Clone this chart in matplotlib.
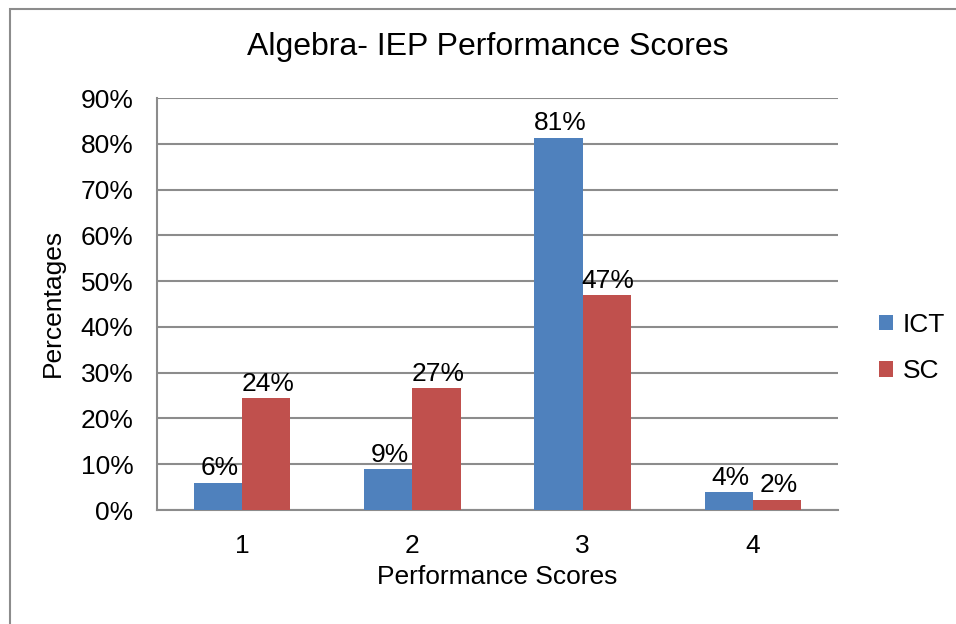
import matplotlib
matplotlib.use("Agg")
import matplotlib.pyplot as plt
from matplotlib.patches import Rectangle
from matplotlib.ticker import PercentFormatter
import numpy as np

categories = ["1", "2", "3", "4"]
series_names = ["ICT", "SC"]
ict_values = [0.059, 0.089, 0.813, 0.039]
sc_values = [0.244, 0.266, 0.469, 0.022]
y_ticks = [0, 0.1, 0.2, 0.3, 0.4, 0.5, 0.6, 0.7, 0.8, 0.9]

plt.rcParams['font.family'] = ['Liberation Sans', 'DejaVu Sans']

W, H = 956, 624
fig = plt.figure(figsize=(W / 100, H / 100), dpi=100)
ax = fig.add_axes([157 / W, 1 - 510 / H, (838 - 157) / W, (510 - 98) / H])

# outer chart border
fig.patches.append(Rectangle((10 / W, -0.1), 1.2, 1 - 8.5 / H + 0.1, transform=fig.transFigure,
                             fill=False, edgecolor="#8c8c8c", linewidth=1.5))

x = np.arange(1, len(categories) + 1)
bw = 0.283
colors = ["#4F81BD", "#C0504D"]
FS = 19
for i, (vals, name) in enumerate(zip([ict_values, sc_values], series_names)):
    pos = x + (i - 0.5) * bw
    ax.bar(pos, vals, width=bw, color=colors[i], label=name, zorder=3)
    for px, v in zip(pos, vals):
        ax.annotate(f"{v * 100:.0f}%", (px, v), xytext=(1, 5.5), textcoords="offset points",
                    ha="center", va="baseline", fontsize=FS)

ax.set_xlim(0.5, 4.5)
ax.set_ylim(0, 0.9)
ax.set_yticks(y_ticks)
ax.yaxis.set_major_formatter(PercentFormatter(1.0, decimals=0))
ax.set_xticks(x)
ax.set_xticklabels(categories)
ax.grid(axis="y", color="#8c8c8c", linewidth=1.5, zorder=0)
ax.set_axisbelow(True)
for s in ["top", "right"]:
    ax.spines[s].set_visible(False)
for s in ["left", "bottom"]:
    ax.spines[s].set_color("#8c8c8c")
    ax.spines[s].set_linewidth(1.5)
ax.tick_params(axis="both", length=0, labelsize=FS)
ax.tick_params(axis="y", pad=17)
ax.tick_params(axis="x", pad=17)

fig.text(488 / W, 1 - 47 / H, "Algebra- IEP Performance Scores", fontsize=23, ha="center", va="center")
fig.text(497 / W, 1 - 577 / H, "Performance Scores", fontsize=FS, ha="center", va="center")
fig.text(53 / W, 1 - 303 / H, "Percentages", fontsize=FS, ha="center", va="center", rotation=90)

leg = ax.legend(loc="center left", bbox_to_anchor=(0.025, 0.393), bbox_transform=ax.transAxes,
                frameon=False, fontsize=FS,
                handlelength=0.55, handleheight=0.55, handletextpad=0.35, labelspacing=0.85)
leg.set_bbox_to_anchor((1.025, 0.393), transform=ax.transAxes)

fig.savefig("out.png", dpi=100)
